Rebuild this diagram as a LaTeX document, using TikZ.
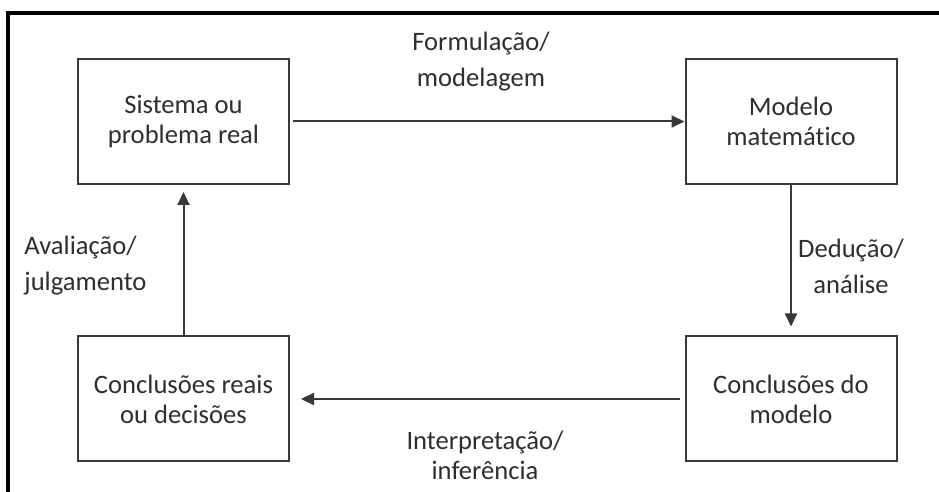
\documentclass[tikz,border=0pt]{standalone}
\usepackage{fontspec}
\setmainfont[Ligatures=NoCommon]{Carlito}
\usetikzlibrary{arrows.meta}
\begin{document}
\begin{tikzpicture}[x=0.5pt,y=-0.5pt,
  txt/.style={text=black!82,font=\fontsize{13.3}{15}\selectfont,align=center},
  stage/.style={draw=black!78,line width=1pt,minimum width=105.5pt,minimum height=62.5pt,
    inner sep=0pt,txt},
  lbl/.style={txt,font=\fontsize{13.3}{18}\selectfont,inner sep=0pt},
  flow/.style={draw=black!78,line width=1pt,-{Triangle[length=6.5pt,width=6pt]}}]
\useasboundingbox (0,0) rectangle (939,492);
% outer frame (open at the bottom and right)
\draw[line width=1.6pt] (8,500) -- (8,13) -- (950,13);
% the four stages
\node[stage] (real)  at (183.5,121.5) {Sistema ou\\problema real};
\node[stage] (model) at (791,121.5)   {Modelo\\matemático};
\node[stage] (dec)   at (183.5,399)   {Conclusões reais\\ou decisões};
\node[stage] (mconc) at (791,399)     {Conclusões do\\modelo};
% connectors
\draw[flow] ([xshift=1.5pt]real.east) -- (model.west);
\draw[flow] (model.south) -- ([yshift=4.5pt]mconc.north);
\draw[flow] ([xshift=-2.5pt]mconc.west) -- ([xshift=5.5pt]dec.east);
\draw[flow] (dec.north) -- ([yshift=-3.5pt]real.south);
% connector labels
\node[lbl] (l1) at (481,62)  {Formulação/\\modelagem};
\node[lbl] (l2) at (851,266) {Dedução/\\análise};
\node[lbl,align=left,anchor=west] (l3) at (24,266) {Avaliação/\\julgamento};
\node[lbl,font=\fontsize{13.3}{15}\selectfont] (l4) at (485,455) {Interpretação/\\inferência};
\end{tikzpicture}
\end{document}
